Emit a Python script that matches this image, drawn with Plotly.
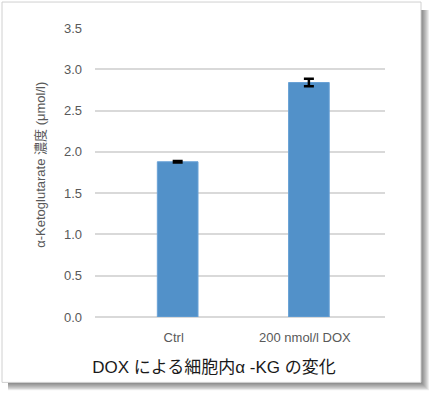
import plotly.graph_objects as go

categories = ["Ctrl", "200 nmol/l DOX"]
values = [1.88, 2.84]
errors = [0.01, 0.045]
y_ticks = [0.0, 0.5, 1.0, 1.5, 2.0, 2.5, 3.0, 3.5]

FONT = "Liberation Sans, Arial, Noto Sans CJK JP, sans-serif"

W, H = 436, 396
ml, mr, mt, mb = 95, 51, 28, 78.5
pw, ph = W - ml - mr, H - mt - mb

def px_to_paper_x(x):
    return (x - ml) / pw

def px_to_paper_y(y):
    return (H - mb - y) / ph

fig = go.Figure()
fig.add_trace(go.Bar(
    x=categories, y=values,
    width=0.31,
    marker=dict(color="#5291c9", line=dict(color="#6aa2d6", width=1)),
    error_y=dict(type="data", array=errors, visible=True, color="#000000",
                 thickness=2.5, width=5),
))

shapes = []
box = (2, 2, 421, 383)
for k in range(1, 9):
    shapes.append(dict(
        type="rect", xref="paper", yref="paper", layer="below",
        x0=px_to_paper_x(box[0] + 6), x1=px_to_paper_x(box[2] + k),
        y0=px_to_paper_y(box[3] + k), y1=px_to_paper_y(box[1] + 8),
        line=dict(width=0), fillcolor="rgba(0,0,0,0.07)",
    ))
shapes.append(dict(
    type="rect", xref="paper", yref="paper", layer="below",
    x0=px_to_paper_x(box[0]), x1=px_to_paper_x(box[2]),
    y0=px_to_paper_y(box[3]), y1=px_to_paper_y(box[1]),
    line=dict(color="#d0d0d0", width=1), fillcolor="#ffffff",
))

title_text = "DOX による細胞内α -KG の変化"

fig.update_layout(
    width=W, height=H,
    margin=dict(l=ml, r=mr, t=mt, b=mb, autoexpand=False),
    paper_bgcolor="#ffffff",
    plot_bgcolor="rgba(0,0,0,0)",
    showlegend=False,
    shapes=shapes,
    font=dict(family=FONT, color="#595959"),
    title=dict(text=title_text, x=214 / W, xanchor="center",
               y=1 - 367 / H, yanchor="middle", yref="container",
               font=dict(family=FONT, size=17, color="#1a1a1a")),
    xaxis=dict(range=[-0.63, 1.58], showgrid=False, zeroline=False, showline=False,
               ticks="", tickfont=dict(size=13, color="#595959"),
               ticklabelstandoff=11, ticklabelshift=-4, automargin=False),
    yaxis=dict(range=[0, 3.5], tickvals=y_ticks, ticktext=[f"{v:.1f}" for v in y_ticks],
               showgrid=True, gridcolor="#d9d9d9", gridwidth=1.5,
               zeroline=True, zerolinecolor="#d9d9d9", zerolinewidth=1.5,
               showline=False, ticks="", tickfont=dict(size=13, color="#595959"),
               ticklabelstandoff=12, automargin=False),
    annotations=[dict(
        text="α-Ketoglutarate 濃度 (μmol/l)", textangle=-90,
        xref="paper", yref="paper", x=px_to_paper_x(41), y=px_to_paper_y(165),
        xanchor="center", yanchor="middle", showarrow=False,
        font=dict(family=FONT, size=13, color="#595959"),
    )],
)

fig.write_html("out.html")
